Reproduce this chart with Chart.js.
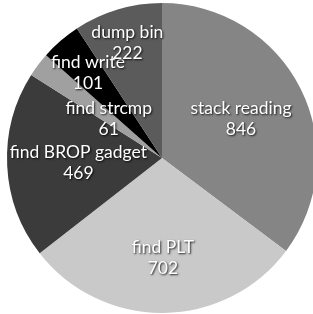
<!DOCTYPE html>
<html>
<head>
<meta charset="utf-8">
<script src="https://cdn.jsdelivr.net/npm/chart.js@4"></script>
<style>
  html, body { margin: 0; padding: 0; background: #fff; overflow: hidden; }
  #wrap { position: absolute; left: 0; top: 0; width: 324px; height: 316px; }
</style>
</head>
<body>
<div id="wrap"><canvas id="chart"></canvas></div>
<script>
const labels = ["stack reading", "find PLT", "find BROP gadget", "find strcmp", "find write", "dump bin"];
const values = [846, 702, 469, 61, 101, 222];

const colors = ["#858585", "#c9c9c9", "#3b3b3b", "#a0a0a0", "#000000", "#5b5b5b"];
// how far out (fraction of radius) each label sits
const labelRadius = [0.57, 0.64, 0.54, 0.43, 0.73, 0.78];

const sliceLabels = {
  id: "sliceLabels",
  afterDatasetsDraw(chart) {
    const ctx = chart.ctx;
    const arcs = chart.getDatasetMeta(0).data;
    ctx.save();
    ctx.font = "17.5px Lato";
    ctx.fillStyle = "#fff";
    ctx.textAlign = "center";
    ctx.textBaseline = "middle";
    ctx.shadowColor = "rgba(0,0,0,0.85)";
    ctx.shadowOffsetX = 1;
    ctx.shadowOffsetY = 1;
    ctx.shadowBlur = 2;
    arcs.forEach((arc, i) => {
      const mid = (arc.startAngle + arc.endAngle) / 2;
      const r = arc.outerRadius * labelRadius[i];
      const x = arc.x + Math.cos(mid) * r;
      const y = arc.y + Math.sin(mid) * r;
      ctx.fillText(labels[i], x, y - 10);
      ctx.fillText(String(values[i]), x, y + 11);
    });
    ctx.restore();
  }
};

new Chart(document.getElementById("chart"), {
  type: "pie",
  data: {
    labels: labels,
    datasets: [{
      data: values,
      backgroundColor: colors,
      borderWidth: 0,
      radius: 155
    }]
  },
  options: {
    responsive: true,
    maintainAspectRatio: false,
    animation: false,
    layout: { padding: 0 },
    plugins: {
      legend: { display: false },
      tooltip: { enabled: false }
    }
  },
  plugins: [sliceLabels]
});
</script>
</body>
</html>
